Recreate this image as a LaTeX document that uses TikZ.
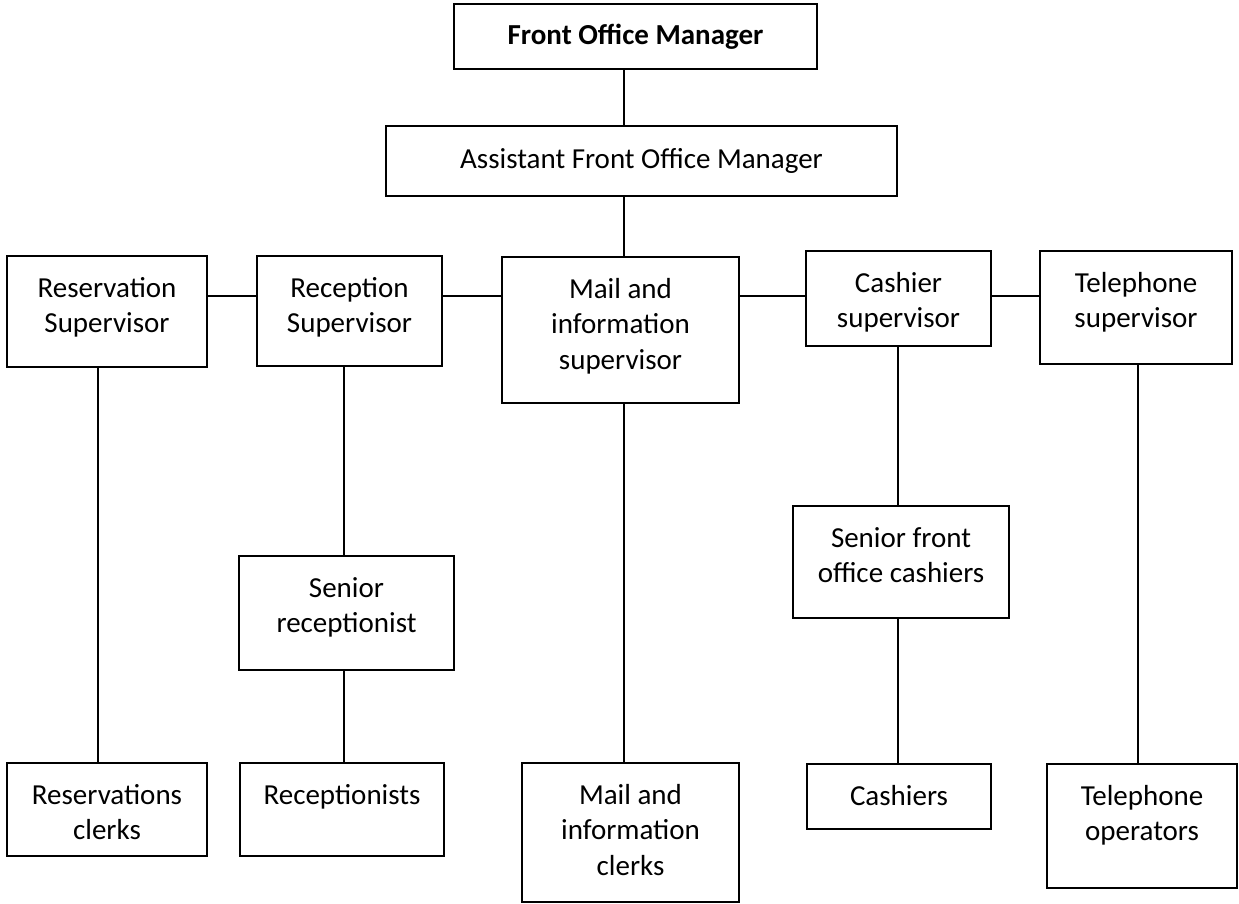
\documentclass[tikz,border=0pt]{standalone}
\usepackage{fontspec}
\setmainfont{Carlito}
\usetikzlibrary{positioning}

\begin{document}
\begin{tikzpicture}[x=0.02cm, y=-0.02cm,
    box/.style={draw, line width=0.8pt, inner sep=0pt},
    lbl/.style={align=center, inner sep=0pt, font=\fontsize{16.5}{20}\selectfont},
    link/.style={line width=0.8pt}]
    \useasboundingbox (0,0) rectangle (1239,903);

    % management
    \node[box, lbl, minimum width=7.26cm, minimum height=1.30cm] (fom) at (635.5,36.5) {\textbf{Front Office Manager}};
    \node[box, lbl, minimum width=10.22cm, minimum height=1.40cm] (afom) at (641.5,161) {Assistant Front Office Manager};

    % supervisors
    \node[box, minimum width=4.00cm, minimum height=2.22cm] (ressup) at (107,311.5) {};
    \node[lbl, below=0.44cm of ressup.north] (ressup-t) {Reservation\\Supervisor};
    \node[box, minimum width=3.70cm, minimum height=2.20cm] (recsup) at (349.5,311) {};
    \node[lbl, below=0.44cm of recsup.north] (recsup-t) {Reception\\Supervisor};
    \node[box, minimum width=4.74cm, minimum height=2.92cm] (mailsup) at (620.5,330) {};
    \node[lbl, below=0.44cm of mailsup.north] (mailsup-t) {Mail and\\information\\supervisor};
    \node[box, minimum width=3.70cm, minimum height=1.90cm] (cashsup) at (898.5,298.5) {};
    \node[lbl, below=0.44cm of cashsup.north] (cashsup-t) {Cashier\\supervisor};
    \node[box, minimum width=3.84cm, minimum height=2.26cm] (telsup) at (1136,307.5) {};
    \node[lbl, below=0.44cm of telsup.north] (telsup-t) {Telephone\\supervisor};

    % seniors
    \node[box, minimum width=4.30cm, minimum height=2.28cm] (senrec) at (346.5,613) {};
    \node[lbl, below=0.44cm of senrec.north] (senrec-t) {Senior\\receptionist};
    \node[box, minimum width=4.32cm, minimum height=2.24cm] (sencash) at (901,562) {};
    \node[lbl, below=0.44cm of sencash.north] (sencash-t) {Senior front\\office cashiers};

    % staff
    \node[box, minimum width=4.00cm, minimum height=1.86cm] (resclerk) at (107,809.5) {};
    \node[lbl, below=0.44cm of resclerk.north] (resclerk-t) {Reservations\\clerks};
    \node[box, minimum width=4.08cm, minimum height=1.86cm] (recep) at (342,809.5) {};
    \node[lbl, below=0.44cm of recep.north] (recep-t) {Receptionists};
    \node[box, minimum width=4.34cm, minimum height=2.78cm] (mailclerk) at (630.5,832.5) {};
    \node[lbl, below=0.44cm of mailclerk.north] (mailclerk-t) {Mail and\\information\\clerks};
    \node[box, minimum width=3.68cm, minimum height=1.30cm] (cashiers) at (899,796.5) {};
    \node[lbl, below=0.44cm of cashiers.north] (cashiers-t) {Cashiers};
    \node[box, minimum width=3.80cm, minimum height=2.48cm] (telop) at (1142,826) {};
    \node[lbl, below=0.44cm of telop.north] (telop-t) {Telephone\\operators};

    % where the lines run
    \coordinate (row) at (0,296);
    \coordinate (colres) at (98,0);
    \coordinate (colrec) at (344,0);
    \coordinate (colmail) at (624,0);
    \coordinate (colcash) at (898,0);
    \coordinate (coltel) at (1138,0);

    \draw[link] (fom.south -| colmail) -- (afom.north -| colmail);
    \draw[link] (afom.south -| colmail) -- (mailsup.north -| colmail);
    \draw[link] (ressup.east |- row) -- (recsup.west |- row);
    \draw[link] (recsup.east |- row) -- (mailsup.west |- row);
    \draw[link] (mailsup.east |- row) -- (cashsup.west |- row);
    \draw[link] (cashsup.east |- row) -- (telsup.west |- row);
    \draw[link] (ressup.south -| colres) -- (resclerk.north -| colres);
    \draw[link] (recsup.south -| colrec) -- (senrec.north -| colrec);
    \draw[link] (senrec.south -| colrec) -- (recep.north -| colrec);
    \draw[link] (mailsup.south -| colmail) -- (mailclerk.north -| colmail);
    \draw[link] (cashsup.south -| colcash) -- (sencash.north -| colcash);
    \draw[link] (sencash.south -| colcash) -- (cashiers.north -| colcash);
    \draw[link] (telsup.south -| coltel) -- (telop.north -| coltel);
\end{tikzpicture}
\end{document}
